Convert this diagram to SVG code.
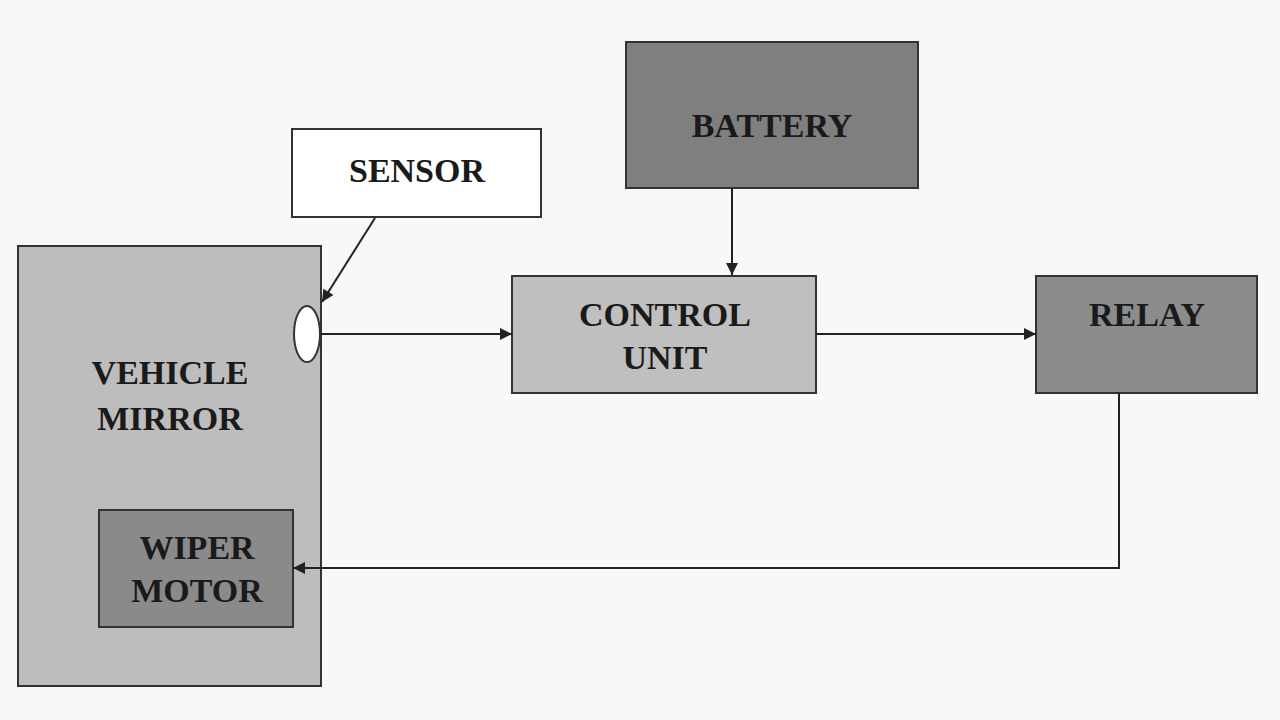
<svg xmlns="http://www.w3.org/2000/svg" width="1280" height="720" viewBox="0 0 1280 720">
<style>
.b{stroke:#333;stroke-width:2}
.t{font-family:"Liberation Serif",serif;font-weight:bold;font-size:34px;fill:#1a1a1a;text-anchor:middle}
.c{stroke:#222;stroke-width:2;fill:none;marker-end:url(#a)}
</style>
<defs><marker id="a" viewBox="0 0 10 10" refX="10" refY="5" markerWidth="14" markerHeight="12" markerUnits="userSpaceOnUse" orient="auto"><path d="M0,0L10,5L0,10z" fill="#222"/></marker></defs>
<rect width="1280" height="720" fill="#f8f8f8"/>
<g id="mirror"><rect class="b" x="18" y="246" width="303" height="440" fill="#bdbdbd"/><text class="t" x="170" y="384">VEHICLE</text><text class="t" x="170" y="430">MIRROR</text><ellipse class="b" cx="307" cy="334" rx="13" ry="28" fill="#fff"/></g>
<g id="wiper"><rect class="b" x="99" y="510" width="194" height="117" fill="#8a8a8a"/><text class="t" x="197" y="559">WIPER</text><text class="t" x="197" y="602">MOTOR</text></g>
<g id="sensor"><rect class="b" x="292" y="129" width="249" height="88" fill="#fff"/><text class="t" x="417" y="182">SENSOR</text></g>
<g id="battery"><rect class="b" x="626" y="42" width="292" height="146" fill="#7f7f7f"/><text class="t" x="772" y="137">BATTERY</text></g>
<g id="control"><rect class="b" x="512" y="276" width="304" height="117" fill="#bfbfbf"/><text class="t" x="665" y="326">CONTROL</text><text class="t" x="665" y="369">UNIT</text></g>
<g id="relay"><rect class="b" x="1036" y="276" width="221" height="117" fill="#8c8c8c"/><text class="t" x="1147" y="326">RELAY</text></g>
<g id="connectors">
<path class="c" d="M375,218L322,302"/>
<path class="c" d="M320,334H512"/>
<path class="c" d="M732,188V275"/>
<path class="c" d="M816,334H1036"/>
<path class="c" d="M1119,393V568H293"/>
</g>
</svg>
